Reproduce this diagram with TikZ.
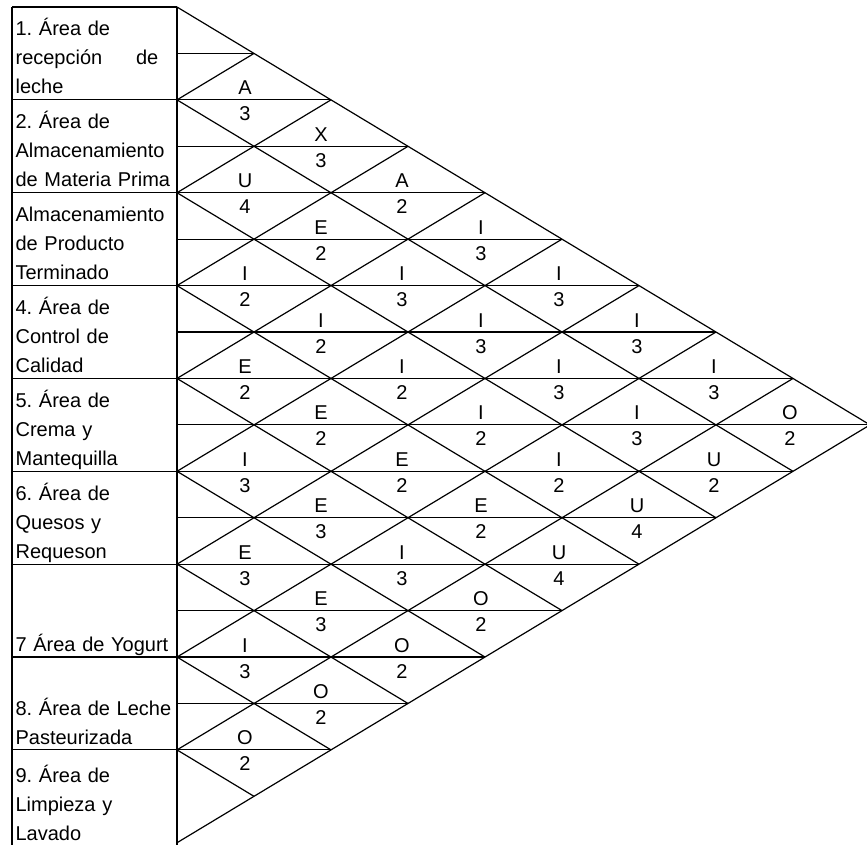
\documentclass[tikz,border=0pt]{standalone}
\usepackage{fontspec}
\setmainfont{Liberation Sans}

\begin{document}
\begin{tikzpicture}[x=0.75pt, y=-0.75pt, line width=0.9pt,
    every node/.style={inner sep=0pt},
    area/.style={anchor=base west, text width=125pt, align=left,
      font=\fontsize{15}{21.75}\selectfont\frenchspacing},
    rel/.style={anchor=base, font=\fontsize{15}{18}\selectfont}]
    \useasboundingbox (0,0) rectangle (867,844);

    % table of areas on the left
    \draw[line width=1.2pt] (12,7) -- (12,846);
    \draw[line width=1.2pt] (177,7) -- (177,846);
    \draw[line width=1.2pt] (12,7) -- (177,7);

    % horizontal lines: row limits start at the table, half rows at the triangle
    \foreach \n in {1,...,16} {
        \pgfmathsetmacro{\xe}{177+77*min(\n,18-\n)}
        \pgfmathsetmacro{\xs}{isodd(\n) ? 177 : 12}
        \draw (\xs,7+46.43*\n) -- (\xe,7+46.43*\n);
    }

    % diagonals of the diamond grid
    \foreach \i in {0,...,8}
        \draw (177,7+92.86*\i) -- ({177+77*(9-\i)},{7+46.43*(9+\i)});
    \foreach \i in {1,...,9}
        \draw (177,7+92.86*\i) -- ({177+77*\i},{7+46.43*\i});

    % area names
    \node[area] (area1) at (15,35) {1. Área de\\ \makebox[107pt]{recepción\hfill de}\\ leche};
    \node[area] (area2) at (15,128) {2. Área de\\ Almacenamiento\\ de Materia Prima};
    \node[area] (area3) at (15,221) {Almacenamiento\\ de Producto\\ Terminado};
    \node[area] (area4) at (15,314) {4. Área de\\ Control de\\ Calidad};
    \node[area] (area5) at (15,407) {5. Área de\\ Crema y\\ Mantequilla};
    \node[area] (area6) at (15,500) {6. Área de\\ Quesos y\\ Requeson};
    \node[area] (area7) at (15,651) {7 Área de Yogurt};
    \node[area] (area8) at (15,715) {8. Área de Leche\\ Pasteurizada};
    \node[area] (area9) at (15,782) {9. Área de\\ Limpieza y\\ Lavado};

    % closeness letter and reason in every diamond
    \foreach \p/\x/\n/\l/\r in {
        12/245/2/A/3, 23/245/4/U/4, 34/245/6/I/2, 45/245/8/E/2,
        56/245/10/I/3, 67/245/12/E/3, 78/245/14/I/3, 89/245/16/O/2,
        13/321/3/X/3, 24/321/5/E/2, 35/321/7/I/2, 46/321/9/E/2,
        57/321/11/E/3, 68/321/13/E/3, 79/321/15/O/2,
        14/402/4/A/2, 25/402/6/I/3, 36/402/8/I/2, 47/402/10/E/2,
        58/402/12/I/3, 69/402/14/O/2,
        15/481/5/I/3, 26/481/7/I/3, 37/481/9/I/2, 48/481/11/E/2, 59/481/13/O/2,
        16/559/6/I/3, 27/559/8/I/3, 38/559/10/I/2, 49/559/12/U/4,
        17/637/7/I/3, 28/637/9/I/3, 39/637/11/U/4,
        18/714/8/I/3, 29/714/10/U/2,
        19/790/9/O/2} {
        \node[rel] (rel\p) at (\x,7+46.43*\n-5) {\l};
        \node[rel] (val\p) at (\x,7+46.43*\n+21) {\r};
    }
\end{tikzpicture}
\end{document}
